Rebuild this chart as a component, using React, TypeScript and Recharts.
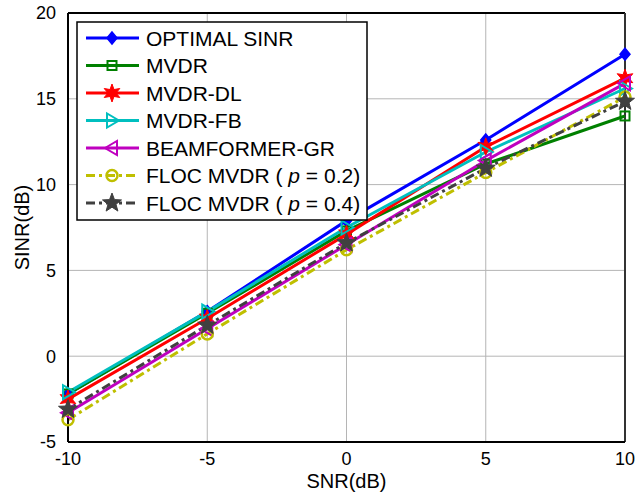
import React from 'react';
import {
  CartesianGrid,
  Line,
  LineChart,
  ReferenceLine,
  XAxis,
  YAxis,
} from 'recharts';

const snr = [-10, -5, 0, 5, 10];
const optimalSinr = [-2.2, 2.6, 7.9, 12.6, 17.6];
const mvdr = [-2.2, 2.5, 7.3, 11.2, 14.0];
const mvdrDl = [-2.5, 2.2, 7.1, 12.2, 16.2];
const mvdrFb = [-2.1, 2.6, 7.5, 11.9, 15.6];
const beamformerGr = [-3.3, 1.6, 6.5, 11.4, 15.9];
const floc02 = [-3.7, 1.3, 6.2, 10.7, 15.1];
const floc04 = [-3.1, 1.8, 6.6, 10.95, 14.85];

const xTicks = [-10, -5, 0, 5, 10];
const yTicks = [-5, 0, 5, 10, 15, 20];

const data = snr.map((x, i) => ({
  snr: x,
  optimal: optimalSinr[i],
  mvdr: mvdr[i],
  mvdrDl: mvdrDl[i],
  mvdrFb: mvdrFb[i],
  gr: beamformerGr[i],
  floc02: floc02[i],
  floc04: floc04[i],
}));

type Marker = 'diamond' | 'square' | 'hexstar' | 'triRight' | 'triLeft' | 'circle' | 'star';

const FONT = "Arial, 'Liberation Sans', sans-serif";

const SERIES: {
  key: string;
  label: React.ReactNode;
  color: string;
  marker: Marker;
  dash?: string;
}[] = [
  { key: 'optimal', label: 'OPTIMAL SINR', color: '#0000ff', marker: 'diamond' },
  { key: 'mvdr', label: 'MVDR', color: '#008000', marker: 'square' },
  { key: 'mvdrDl', label: 'MVDR-DL', color: '#ff0000', marker: 'hexstar' },
  { key: 'mvdrFb', label: 'MVDR-FB', color: '#00bfbf', marker: 'triRight' },
  { key: 'gr', label: 'BEAMFORMER-GR', color: '#bf00bf', marker: 'triLeft' },
  {
    key: 'floc02',
    label: (
      <>
        FLOC MVDR ( <tspan fontStyle="italic">p</tspan> = 0.2)
      </>
    ),
    color: '#bfbf00',
    marker: 'circle',
    dash: '9 4 3 4',
  },
  {
    key: 'floc04',
    label: (
      <>
        FLOC MVDR ( <tspan fontStyle="italic">p</tspan> = 0.4)
      </>
    ),
    color: '#404040',
    marker: 'star',
    dash: '9 4 3 4',
  },
];

function starPoints(cx: number, cy: number, n: number, ro: number, ri: number) {
  const pts: string[] = [];
  for (let i = 0; i < n * 2; i++) {
    const r = i % 2 === 0 ? ro : ri;
    const a = -Math.PI / 2 + (i * Math.PI) / n;
    pts.push(`${cx + r * Math.cos(a)},${cy + r * Math.sin(a)}`);
  }
  return pts.join(' ');
}

function MarkerShape({ marker, cx, cy, color }: { marker: Marker; cx: number; cy: number; color: string }) {
  switch (marker) {
    case 'diamond':
      return (
        <polygon
          points={`${cx},${cy - 6} ${cx + 5},${cy} ${cx},${cy + 6} ${cx - 5},${cy}`}
          fill={color}
          stroke={color}
          strokeWidth={1.5}
        />
      );
    case 'square':
      return <rect x={cx - 4.5} y={cy - 4.5} width={9} height={9} fill="none" stroke={color} strokeWidth={2} />;
    case 'hexstar':
      return <polygon points={starPoints(cx, cy, 6, 9, 4)} fill={color} stroke={color} strokeWidth={1} />;
    case 'triRight':
      return (
        <polygon
          points={`${cx + 7},${cy} ${cx - 5},${cy - 7} ${cx - 5},${cy + 7}`}
          fill="none"
          stroke={color}
          strokeWidth={2}
        />
      );
    case 'triLeft':
      return (
        <polygon
          points={`${cx - 7},${cy} ${cx + 5},${cy - 7} ${cx + 5},${cy + 7}`}
          fill="none"
          stroke={color}
          strokeWidth={2}
        />
      );
    case 'circle':
      return <circle cx={cx} cy={cy} r={5.5} fill="none" stroke={color} strokeWidth={2.5} />;
    case 'star':
      return <polygon points={starPoints(cx, cy, 5, 10, 4.2)} fill={color} stroke={color} strokeWidth={1} />;
  }
}

function LegendBox() {
  return (
    <svg width={292} height={200} style={{ display: 'block' }}>
      <rect x={1} y={1} width={290} height={198} fill="#fff" stroke="#000" strokeWidth={1.5} />
      {SERIES.map((s, i) => {
        const y = 17 + i * 27.5;
        return (
          <g key={s.key}>
            <line x1={10} x2={63} y1={y} y2={y} stroke={s.color} strokeWidth={3} strokeDasharray={s.dash} />
            <MarkerShape marker={s.marker} cx={36} cy={y} color={s.color} />
            <text x={70} y={y + 7.5} fontSize={21} fontFamily={FONT} fill="#000">
              {s.label}
            </text>
          </g>
        );
      })}
    </svg>
  );
}

const tickStyle = { fontSize: 18, fill: '#000', fontFamily: FONT };

export default function App() {
  return (
    <div style={{ position: 'relative', width: 642, height: 497, background: '#fff' }}>
      <style>{'body{margin:0}'}</style>
      <LineChart width={642} height={497} data={data} margin={{ top: 13, right: 17, bottom: 0, left: 18 }}>
        <CartesianGrid stroke="#b5b5b5" strokeWidth={1} />
        <XAxis
          dataKey="snr"
          type="number"
          domain={[-10, 10]}
          ticks={xTicks}
          tick={tickStyle}
          tickLine={false}
          axisLine={{ stroke: '#000', strokeWidth: 2 }}
          height={55}
          tickMargin={4}
          label={{ value: 'SNR(dB)', position: 'insideBottom', offset: 9, style: { ...tickStyle, fontSize: 20 } }}
        />
        <YAxis
          type="number"
          domain={[-5, 20]}
          ticks={yTicks}
          tick={tickStyle}
          tickLine={false}
          axisLine={{ stroke: '#000', strokeWidth: 2 }}
          width={50}
          tickMargin={6}
          label={{
            value: 'SINR(dB)',
            angle: -90,
            position: 'insideLeft',
            offset: 4,
            style: { ...tickStyle, fontSize: 20, textAnchor: 'middle' },
          }}
        />
        <ReferenceLine y={20} stroke="#000" strokeWidth={2} />
        <ReferenceLine x={10} stroke="#333" strokeWidth={2} />
        {SERIES.map((s) => (
          <Line
            key={s.key}
            dataKey={s.key}
            stroke={s.color}
            strokeWidth={3}
            strokeDasharray={s.dash}
            isAnimationActive={false}
            dot={(p: any) => (
              <g key={`${s.key}-${p.index}`}>
                <MarkerShape marker={s.marker} cx={p.cx} cy={p.cy} color={s.color} />
              </g>
            )}
            activeDot={false}
          />
        ))}
      </LineChart>
      <div style={{ position: 'absolute', left: 76, top: 21 }}>
        <LegendBox />
      </div>
    </div>
  );
}
